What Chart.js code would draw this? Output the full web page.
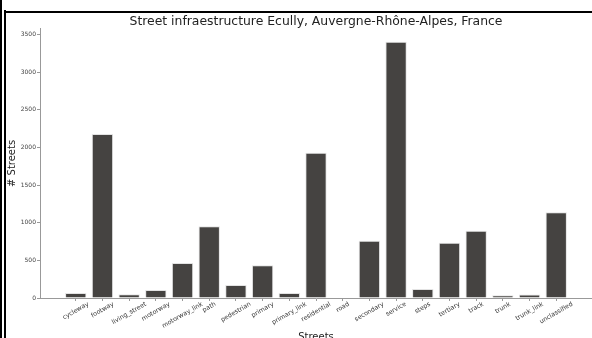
<!DOCTYPE html>
<html>
<head>
<meta charset="utf-8">
<script src="https://cdn.jsdelivr.net/npm/chart.js@4"></script>
<style>
  html, body { margin: 0; padding: 0; background: #fff; }
  #wrap { position: relative; width: 592px; height: 338px; overflow: hidden; }
  #myChart { position: absolute; left: 0; top: 0; }
  .frame { position: absolute; background: #000; }
</style>
</head>
<body>
<div id="wrap">
  <canvas id="myChart" width="592" height="343"></canvas>
  <div class="frame" style="left:0;top:0;width:2px;height:338px"></div>
  <div class="frame" style="left:4px;top:10px;width:2px;height:328px"></div>
  <div class="frame" style="left:4px;top:11px;width:588px;height:2px"></div>
</div>
<script>
// street types and counts
const categories = ["cycleway", "footway", "living_street", "motorway", "motorway_link", "path",
  "pedestrian", "primary", "primary_link", "residential", "road", "secondary", "service",
  "steps", "tertiary", "track", "trunk", "trunk_link", "unclassified"];
const counts = [65, 2180, 50, 105, 465, 952, 173, 434, 65, 1928, 5, 762, 3404, 120, 735, 895, 35, 48, 1138];
const yTicks = [0, 500, 1000, 1500, 2000, 2500, 3000, 3500];

const font = "'DejaVu Sans', sans-serif";

// matplotlib style rotated labels, centred on the tick
const xLabels = {
  id: "xLabels",
  afterDraw(chart) {
    const ctx = chart.ctx;
    const xs = chart.scales.x;
    const a = Math.PI / 6;
    ctx.save();
    ctx.font = "6.3px " + font;
    ctx.fillStyle = "#333";
    ctx.textAlign = "center";
    ctx.textBaseline = "middle";
    categories.forEach((c, i) => {
      const w = ctx.measureText(c).width;
      const vert = w * Math.sin(a) + 5 * Math.cos(a);
      ctx.save();
      ctx.translate(xs.getPixelForValue(i), xs.top + 3.5 + vert / 2);
      ctx.rotate(-a);
      ctx.fillText(c, 0, 0);
      ctx.restore();
    });
    ctx.restore();
  },
};

new Chart(document.getElementById("myChart"), {
  type: "bar",
  data: {
    datasets: [
      {
        label: "# Streets",
        data: counts.map((v, i) => ({ x: i, y: v })),
        backgroundColor: "#454341",
        borderColor: "rgba(220,220,220,0.8)",
        borderWidth: 1,
        barPercentage: 0.8,
        categoryPercentage: 1,
      },
    ],
  },
  options: {
    responsive: false,
    animation: false,
    layout: { padding: { top: 10, left: 0, right: 0, bottom: 0 } },
    plugins: {
      legend: { display: false },
      tooltip: { enabled: false },
      title: {
        display: true,
        fullSize: false,
        text: "Street infraestructure Ecully, Auvergne-Rhône-Alpes, France",
        color: "#222",
        font: { family: font, size: 12.4, weight: "normal" },
        padding: { top: 4, bottom: 0 },
      },
    },
    scales: {
      x: {
        type: "linear",
        offset: false,
        min: -1.34,
        max: 19.34,
        afterBuildTicks: (axis) => {
          axis.ticks = categories.map((c, i) => ({ value: i }));
        },
        afterFit: (axis) => { axis.height = 45; },
        ticks: { display: false },
        grid: { display: true, offset: false, drawOnChartArea: false, drawTicks: true, tickLength: 3, color: "#999" },
        border: { display: true, color: "#999", width: 1 },
        title: {
          display: true,
          text: "Streets",
          color: "#222",
          font: { family: font, size: 10 },
          padding: { top: 0, bottom: 0 },
        },
      },
      y: {
        min: 0,
        max: 3575,
        afterBuildTicks: (axis) => {
          axis.ticks = yTicks.map((v) => ({ value: v }));
        },
        afterFit: (axis) => { axis.width = 40; },
        ticks: {
          color: "#444",
          padding: 1,
          font: { family: font, size: 6 },
          callback: (v) => String(v),
        },
        grid: { display: true, drawOnChartArea: false, drawTicks: true, tickLength: 3, color: "#999" },
        border: { display: true, color: "#999", width: 1 },
        title: {
          display: true,
          text: "# Streets",
          color: "#222",
          font: { family: font, size: 10 },
          padding: { top: 6, bottom: 0 },
        },
      },
    },
  },
  plugins: [xLabels],
});
</script>
</body>
</html>
